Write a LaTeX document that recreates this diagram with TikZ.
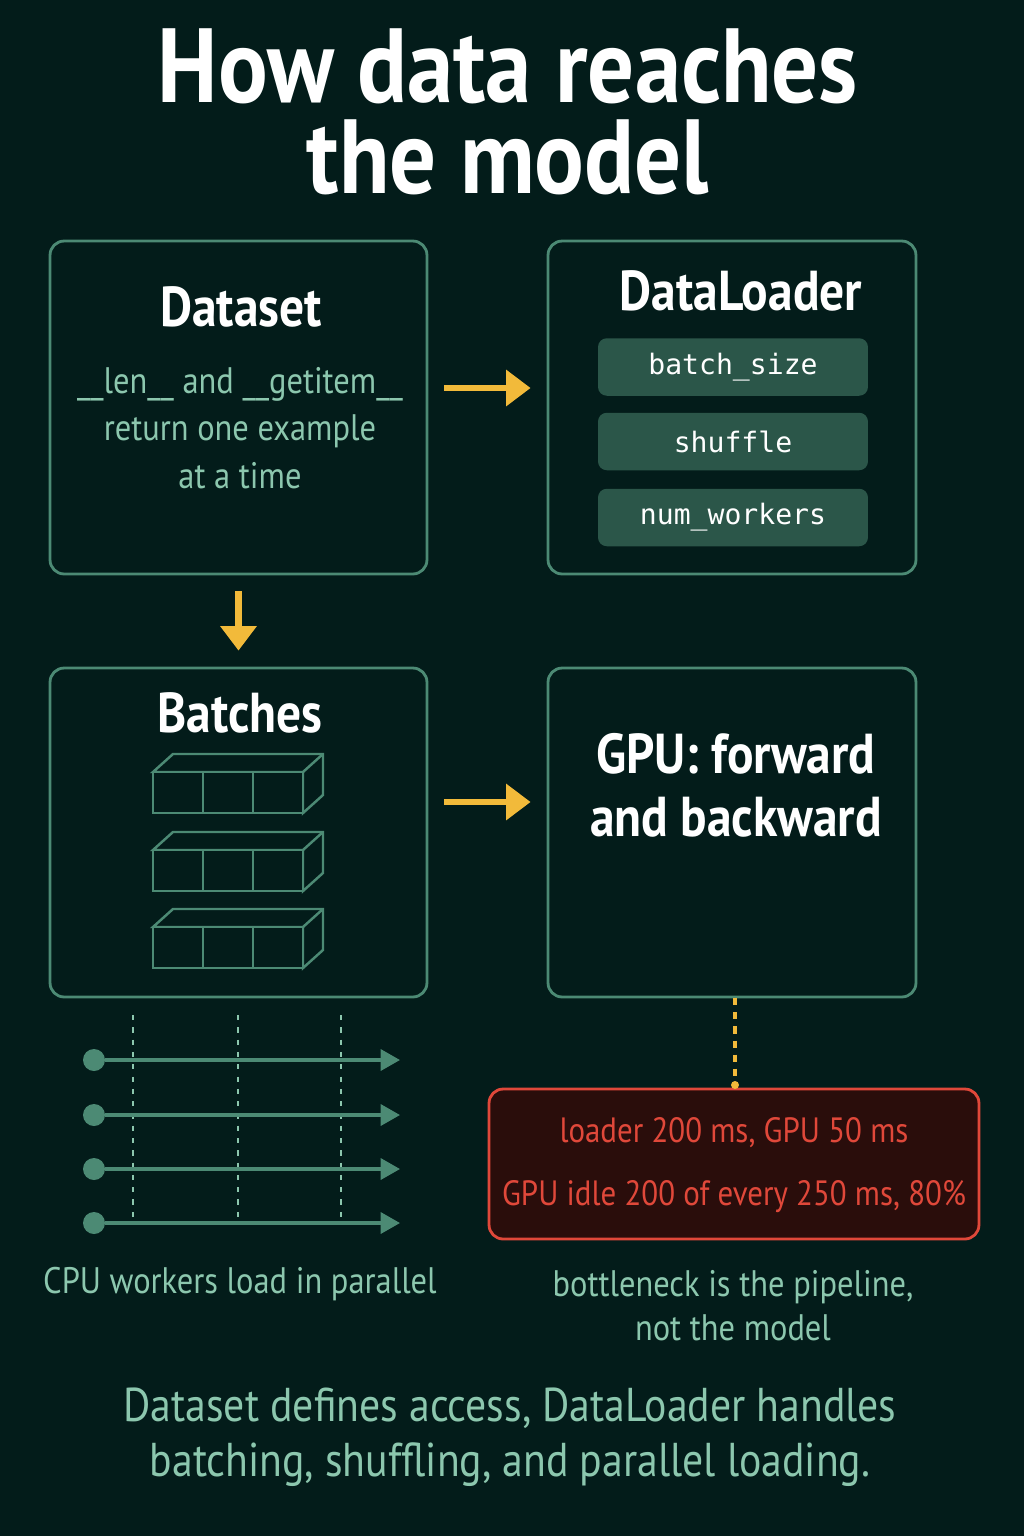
\documentclass[tikz,border=0pt]{standalone}
\usepackage{fontspec}
\setmainfont[FakeStretch=0.88]{PT Sans}
\setmonofont{DejaVu Sans Mono}
\usetikzlibrary{arrows.meta,positioning}
\definecolor{bg}{HTML}{031C1A}
\definecolor{edge}{HTML}{4C8A74}
\definecolor{mint}{HTML}{8CC7AE}
\definecolor{pill}{HTML}{2B5649}
\definecolor{amber}{HTML}{F2BA3A}
\definecolor{alarm}{HTML}{E0483A}
\definecolor{alarmbg}{HTML}{2A0D0B}
\begin{document}
\begin{tikzpicture}[x=0.02cm,y=-0.02cm,>={Triangle[length=14pt,width=20pt]},
  box/.style={draw=edge,line width=1.6pt,rounded corners=8pt,fill=bg},
  pill node/.style={fill=pill,rounded corners=5pt,minimum width=5.4cm,minimum height=1.15cm,
    text=white,font=\ttfamily\fontsize{16}{18}\selectfont},
  flow/.style={->,amber,line width=3.5pt,shorten <=0.32cm,shorten >=0.32cm},
  title node/.style={text=white,font=\bfseries\fontsize{32}{34}\selectfont},
  note/.style={text=mint,font=\fontsize{21}{25}\selectfont,align=center},
  cell/.style={draw=edge,line width=1.4pt,fill=bg}]
  \fill[bg] (0,0) rectangle (1024,1536);
  % title
  \node[text=white,font=\bfseries\fontsize{60}{52}\selectfont,align=center] (title) at (508,112)
    {How data reaches\\the model};
  % boxes
  \node[box,minimum width=7.54cm,minimum height=6.66cm] (ds) at (238.5,407.5) {};
  \node[box,minimum width=7.36cm,minimum height=6.66cm] (dl) at (732,407.5) {};
  \node[box,minimum width=7.54cm,minimum height=6.58cm] (bt) at (238.5,832.5) {};
  \node[box,minimum width=7.36cm,minimum height=6.58cm] (gpu) at (732,832.5) {};
  \node[box,draw=alarm,fill=alarmbg,minimum width=9.8cm,minimum height=3.0cm] (warn) at (734,1164) {};
  % Dataset
  \node[title node] at (241,307) {Dataset};
  \node[note,font=\fontsize{21}{27}\selectfont] at (240,428)
    {\_\_len\_\_ and \_\_getitem\_\_\\return one example\\at a time};
  % DataLoader
  \node[title node] at (741,291) {DataLoader};
  \node[pill node] (p1) at (733,367) {batch\_size};
  \node[pill node] (p2) at (733,441.5) {shuffle};
  \node[pill node] (p3) at (733,517.5) {num\_workers};
  % Batches
  \node[title node] at (240,713) {Batches};
  \foreach \y in {772,850,927}{
    \draw[cell] (153,\y) -- (173,\y-18) -- (323,\y-18) -- (323,\y+23) -- (303,\y+41) -- (303,\y) -- cycle;
    \draw[edge,line width=1.4pt] (303,\y) -- (323,\y-18);
    \foreach \x in {153,203,253}
      \draw[cell] (\x,\y) rectangle ++(50,41);
  }
  % GPU
  \node[title node,font=\bfseries\fontsize{32}{36}\selectfont,align=center] at (736,785)
    {GPU: forward\\and backward};
  % arrows
  \draw[flow] (ds.east |- 0,388) -- (dl.west |- 0,388);
  \draw[flow] (ds) -- (bt);
  \draw[flow] (bt.east |- 0,802) -- (gpu.west |- 0,802);
  \draw[amber,line width=2pt,dash pattern=on 4pt off 4pt] (gpu.south -| 735,0) -- (warn.north -| 735,0);
  \fill[amber] (735,1085) circle (4);
  % warning
  \node[text=alarm,font=\fontsize{20}{22}\selectfont] at (734,1133) {loader 200 ms, GPU 50 ms};
  \node[text=alarm,font=\fontsize{20}{22}\selectfont] at (734,1197) {GPU idle 200 of every 250 ms, 80\%};
  % workers
  \foreach \x in {133,238,341}
    \draw[mint,line width=1.4pt,dash pattern=on 3pt off 4pt] (\x,1015) -- (\x,1222);
  \foreach \y [count=\i] in {1060,1115,1169,1223}{
    \node[circle,fill=edge,minimum size=0.44cm,inner sep=0pt] (w\i) at (94,\y) {};
    \coordinate (e\i) at (400,\y);
    \draw[->,edge,line width=1.8pt,>={Triangle[length=11pt,width=12pt]}] (w\i) -- (e\i);
  }
  \node[note] at (240,1284) {CPU workers load in parallel};
  \node[note] at (733,1306) {bottleneck is the pipeline,\\not the model};
  % caption
  \node[note,font=\fontsize{27}{31}\selectfont] at (510,1437)
    {Dataset defines access, DataLoader handles\\batching, shuffling, and parallel loading.};
\end{tikzpicture}
\end{document}
